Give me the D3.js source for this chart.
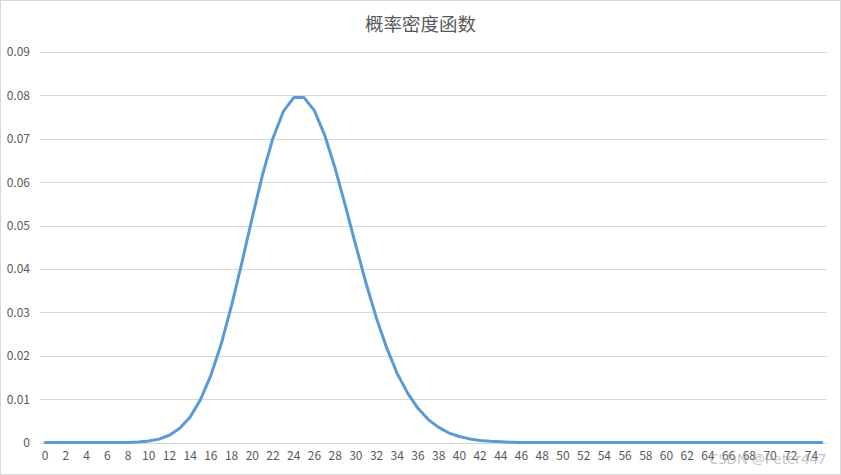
<!DOCTYPE html>
<html><head><meta charset="utf-8">
<script src="https://cdn.jsdelivr.net/npm/d3@7/dist/d3.min.js"></script>
<style>body{margin:0;background:#fff;}svg{display:block;}</style>
</head><body>
<svg id="chart" width="841" height="475"></svg>
<script>
const title = "概率密度函数";
const categories = Array.from({length: 76}, (_, i) => String(i));
const values = [
  0, 0, 0, 0, 0, 0, 0, 0, 0.00005, 0.00013,
  0.00036, 0.0008, 0.0017, 0.0033, 0.0059, 0.0099, 0.0155, 0.0227, 0.0316, 0.0415,
  0.0519, 0.0618, 0.0702, 0.0763, 0.0795, 0.0795, 0.0765, 0.0708, 0.0632, 0.0545,
  0.0454, 0.0366, 0.0286, 0.0217, 0.0159, 0.0114, 0.0079, 0.0053, 0.0035, 0.0022,
  0.0014, 0.00085, 0.0005, 0.00029, 0.00017, 0.0001, 0.00005, 0.00003, 0.00001, 0,
  0, 0, 0, 0, 0, 0, 0, 0, 0, 0,
  0, 0, 0, 0, 0, 0, 0, 0, 0, 0,
  0, 0, 0, 0, 0, 0
];
const yTicks = [0, 0.01, 0.02, 0.03, 0.04, 0.05, 0.06, 0.07, 0.08, 0.09];
const xTickLabels = categories.filter((d, i) => i % 2 === 0);
const watermark = "CSDN @Peter447";

const W = 841, H = 475;
const plot = {left: 40, right: 827, top: 52, bottom: 442.6};
const svg = d3.select("#chart");
const font = "'Noto Sans CJK SC','Noto Sans',sans-serif";

svg.append("rect").attr("x", 0.5).attr("y", 0.5).attr("width", W - 1).attr("height", H - 1)
  .attr("fill", "#fff").attr("stroke", "#d9d9d9");

const x = d3.scaleBand().domain(categories).range([plot.left, plot.right]).padding(0);
const y = d3.scaleLinear().domain([0, 0.09]).range([plot.bottom, plot.top]);

// gridlines
svg.append("g").selectAll("line").data(yTicks).join("line")
  .attr("x1", plot.left).attr("x2", plot.right)
  .attr("y1", d => Math.round(y(d)) + 0.5).attr("y2", d => Math.round(y(d)) + 0.5)
  .attr("stroke", "#d9d9d9").attr("stroke-width", 1);

// y axis labels
const yAxis = d3.axisLeft(y).tickValues(yTicks).tickSize(0).tickPadding(0)
  .tickFormat(d => d === 0 ? "0" : d3.format(".2f")(d));
const gy = svg.append("g").attr("transform", `translate(30,0)`).call(yAxis);
gy.select(".domain").remove();
gy.selectAll("text").attr("fill", "#595959").attr("font-size", 12).attr("font-family", font);

// x axis labels
const xAxis = d3.axisBottom(x).tickValues(xTickLabels).tickSize(0).tickPadding(0);
const gx = svg.append("g").attr("transform", `translate(0,${plot.bottom + 9})`).call(xAxis);
gx.select(".domain").remove();
gx.selectAll("text").attr("fill", "#595959").attr("font-size", 12).attr("font-family", font);

// line
const line = d3.line().x((d, i) => x(categories[i]) + x.bandwidth() / 2).y(d => y(d));
svg.append("path").datum(values).attr("d", line)
  .attr("fill", "none").attr("stroke", "#5b9bd5").attr("stroke-width", 3)
  .attr("stroke-linejoin", "round").attr("stroke-linecap", "round");

// title
svg.append("text").attr("x", W / 2).attr("y", 31).attr("text-anchor", "middle")
  .attr("fill", "#595959").attr("font-size", 18.5).attr("font-family", font).text(title);

// watermark
svg.append("text").attr("x", 826).attr("y", 464).attr("text-anchor", "end")
  .attr("fill", "#9a9a9a").attr("fill-opacity", 0.6).attr("font-size", 14.5)
  .attr("font-family", "'Noto Sans',sans-serif").text(watermark);
</script>
</body></html>
